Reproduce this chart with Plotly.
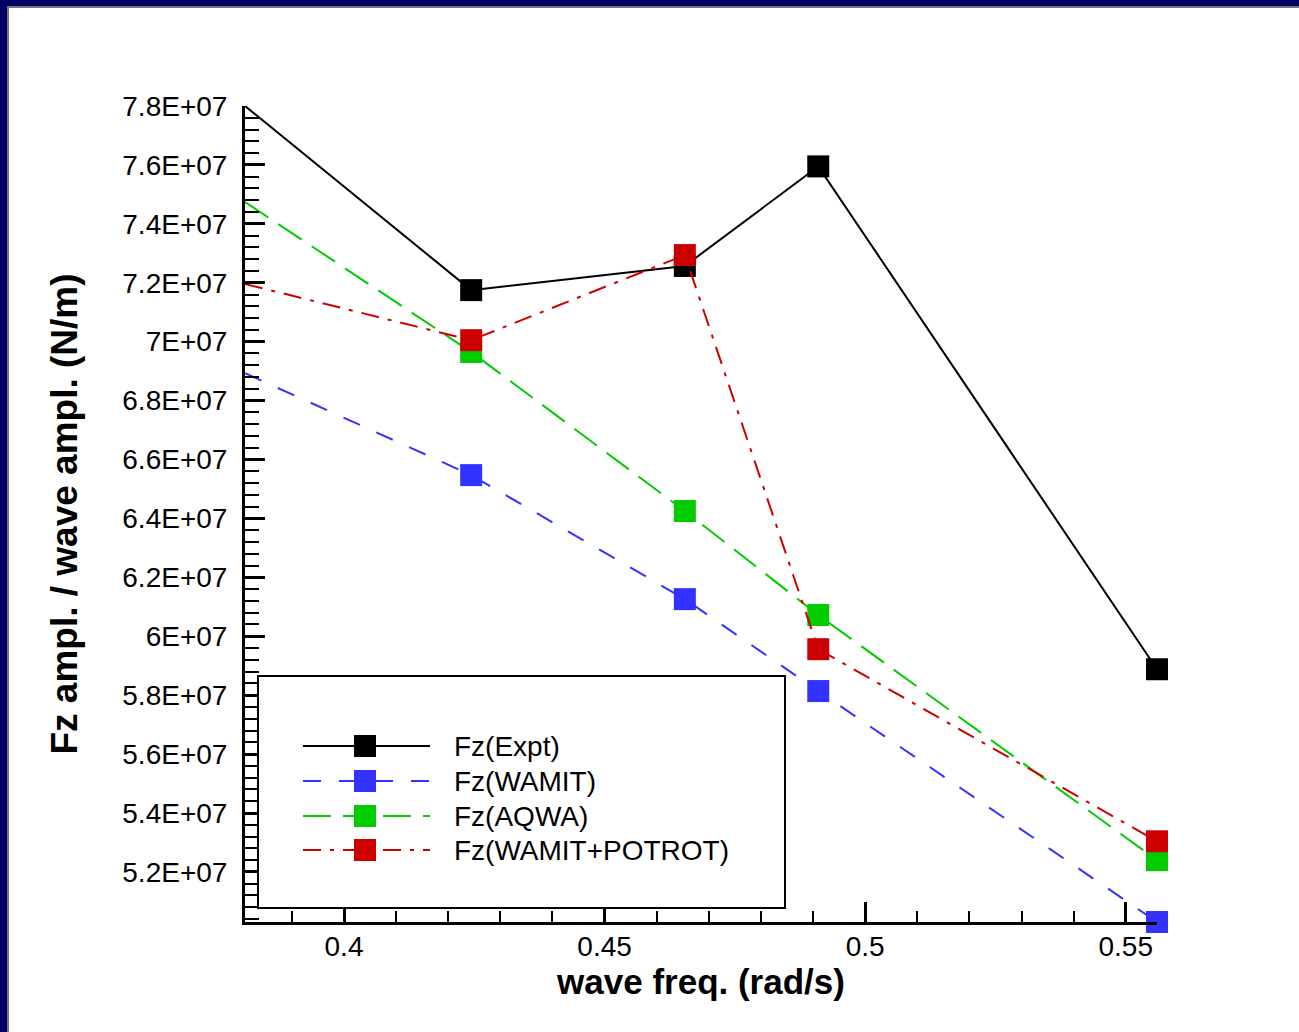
import plotly.graph_objects as go

# ---------------- data ----------------
freq = [0.381, 0.4244, 0.4654, 0.491, 0.556]
fz_expt = [7.80e7, 7.175e7, 7.257e7, 7.595e7, 5.888e7]
fz_wamit = [6.893e7, 6.547e7, 6.126e7, 5.814e7, 5.03e7]
fz_aqwa = [7.474e7, 6.965e7, 6.425e7, 6.072e7, 5.240e7]
fz_potrot = [7.196e7, 7.005e7, 7.294e7, 5.956e7, 5.304e7]

series_names = ["Fz(Expt)", "Fz(WAMIT)", "Fz(AQWA)", "Fz(WAMIT+POTROT)"]

y_tickvals = [5.2e7, 5.4e7, 5.6e7, 5.8e7, 6.0e7, 6.2e7, 6.4e7, 6.6e7, 6.8e7,
              7.0e7, 7.2e7, 7.4e7, 7.6e7, 7.8e7]
y_ticktext = ["5.2E+07", "5.4E+07", "5.6E+07", "5.8E+07", "6E+07", "6.2E+07",
              "6.4E+07", "6.6E+07", "6.8E+07", "7E+07", "7.2E+07", "7.4E+07",
              "7.6E+07", "7.8E+07"]
x_tickvals = [0.4, 0.45, 0.5, 0.55]
x_ticktext = ["0.4", "0.45", "0.5", "0.55"]

# ---------------- styles ----------------
colors = ["#000000", "#3333FF", "#00CC00", "#CC0000"]
dashes = ["solid", "18px,18px", "28px,12px", "18px,9px,4px,9px"]
values = [fz_expt, fz_wamit, fz_aqwa, fz_potrot]

W, H = 1299, 1032
L, R, T, B = 245, 142, 106, 110
PW, PH = W - L - R, H - T - B


def xp(px):
    return (px - L) / PW


def yp(py):
    return (H - B - py) / PH


FONT = "Liberation Sans, Arial, Helvetica, sans-serif"
MS = 22

fig = go.Figure()
for name, vals, col, dsh in zip(series_names, values, colors, dashes):
    fig.add_trace(go.Scatter(
        x=freq, y=vals, name=name, mode="lines+markers",
        line=dict(color=col, width=2, dash=dsh),
        marker=dict(symbol="square", size=[0] + [MS] * (len(freq) - 1),
                    color=col, opacity=1, line=dict(width=0)),
        cliponaxis=False, showlegend=False,
    ))

shapes = []
annotations = []

# frame border (navy with grey inner line) on top and left
navy = "#000066"
shapes.append(dict(type="rect", xref="paper", yref="paper", x0=xp(0), x1=xp(W),
                   y0=yp(0), y1=yp(6), fillcolor=navy, line=dict(width=0), layer="above"))
shapes.append(dict(type="rect", xref="paper", yref="paper", x0=xp(0), x1=xp(7),
                   y0=yp(0), y1=yp(H), fillcolor=navy, line=dict(width=0), layer="above"))
shapes.append(dict(type="rect", xref="paper", yref="paper", x0=xp(7), x1=xp(W),
                   y0=yp(6), y1=yp(8), fillcolor="#777777", line=dict(width=0), layer="above"))
shapes.append(dict(type="rect", xref="paper", yref="paper", x0=xp(7), x1=xp(9),
                   y0=yp(6), y1=yp(H), fillcolor="#777777", line=dict(width=0), layer="above"))

# legend box
shapes.append(dict(type="rect", xref="paper", yref="paper", x0=xp(258), x1=xp(785),
                   y0=yp(676), y1=yp(908), fillcolor="white",
                   line=dict(color="black", width=2), layer="above"))
row_y = [746, 781, 816, 850]
for name, col, dsh, ry in zip(series_names, colors, dashes, row_y):
    shapes.append(dict(type="line", xref="paper", yref="paper", x0=xp(303), x1=xp(430),
                       y0=yp(ry), y1=yp(ry), line=dict(color=col, width=2, dash=dsh),
                       layer="above"))
    shapes.append(dict(type="rect", xref="paper", yref="paper",
                       x0=xp(365 - MS / 2), x1=xp(365 + MS / 2),
                       y0=yp(ry + MS / 2), y1=yp(ry - MS / 2),
                       fillcolor=col, line=dict(width=0), layer="above"))
    annotations.append(dict(xref="paper", yref="paper", x=xp(452), y=yp(ry),
                            xanchor="left", yanchor="middle", text=name, showarrow=False,
                            font=dict(family=FONT, size=28, color="black")))

axis_common = dict(
    showline=True, linecolor="black", linewidth=3, mirror=False,
    ticks="inside", ticklen=20, tickwidth=3, tickcolor="black",
    showgrid=False, zeroline=False,
    tickfont=dict(family=FONT, size=28, color="black"),
)

fig.update_layout(
    width=W, height=H,
    margin=dict(l=L, r=R, t=T, b=B),
    paper_bgcolor="white", plot_bgcolor="white",
    showlegend=False,
    shapes=shapes, annotations=annotations,
    xaxis=dict(
        range=[freq[0], freq[-1]], tickvals=x_tickvals, ticktext=x_ticktext,
        minor=dict(ticks="inside", ticklen=11, tickwidth=2, tickcolor="black",
                   dtick=0.01, tick0=0, showgrid=False),
        ticklabelstandoff=-3,
        title=dict(text="<b>wave freq. (rad/s)</b>", standoff=0,
                   font=dict(family=FONT, size=35, color="black")),
        **axis_common,
    ),
    yaxis=dict(
        range=[5.03e7, 7.8e7], tickvals=y_tickvals, ticktext=y_ticktext,
        minor=dict(ticks="inside", ticklen=14, tickwidth=2, tickcolor="black",
                   dtick=4e5, tick0=0, showgrid=False),
        ticklabelstandoff=9,
        title=dict(text="<b>Fz ampl. / wave ampl. (N/m)</b>", standoff=34,
                   font=dict(family=FONT, size=37, color="black")),
        **axis_common,
    ),
)

fig.write_html("out.html")
